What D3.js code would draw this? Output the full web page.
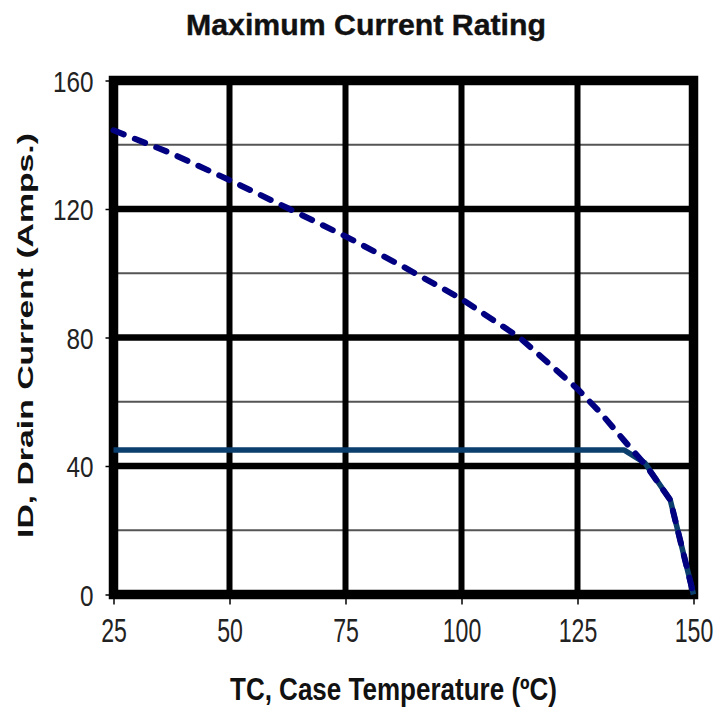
<!DOCTYPE html>
<html>
<head>
<meta charset="utf-8">
<script src="https://cdn.jsdelivr.net/npm/d3@7"></script>
<style>
  html, body { margin: 0; padding: 0; background: #fff; }
  svg { display: block; }
</style>
</head>
<body>
<svg id="chart" width="720" height="709"></svg>
<script>
// ---- data ----
const xTicks = [25, 50, 75, 100, 125, 150];
const yTicks = [0, 40, 80, 120, 160];
const yMinorTicks = [20, 60, 100, 140];

// Package-limited current (solid)
const solidTemp = [25, 135, 139.5, 145, 150];
const solidCurrent = [45, 45, 41, 29.4, 0];

// Silicon-limited current (dashed)
const dashTemp = [25, 37.5, 50, 62.5, 75, 87.5, 100, 112.5, 125, 130, 135, 140, 145, 150];
const dashCurrent = [144.5, 137.3, 129, 120.3, 111.5, 102, 92, 80, 64, 56.5, 48, 39.7, 29.4, 0];

const titleText = "Maximum Current Rating";
const xTitle = "TC, Case  Temperature (\u00BAC)";
const yTitle = "ID, Drain Current (Amps.)";

// ---- layout ----
const svg = d3.select("#chart");
const x = d3.scaleLinear().domain([25, 150]).range([113.5, 693.5]);
const y = d3.scaleLinear().domain([0, 160]).range([594.5, 80.5]);
const font = "'Liberation Sans', Arial, sans-serif";

// minor horizontal grid
svg.append("g").selectAll("line").data(yMinorTicks).join("line")
  .attr("x1", x(25)).attr("x2", x(150))
  .attr("y1", d => y(d)).attr("y2", d => y(d))
  .attr("stroke", "#555").attr("stroke-width", 2);

// major horizontal grid
svg.append("g").selectAll("line").data(yTicks.filter(d => d > 0 && d < 160)).join("line")
  .attr("x1", x(25)).attr("x2", x(150))
  .attr("y1", d => y(d)).attr("y2", d => y(d))
  .attr("stroke", "#000").attr("stroke-width", 6.5);

// vertical grid
svg.append("g").selectAll("line").data(xTicks.filter(d => d > 25 && d < 150)).join("line")
  .attr("x1", d => x(d)).attr("x2", d => x(d))
  .attr("y1", y(0)).attr("y2", y(160))
  .attr("stroke", "#000").attr("stroke-width", 6);

// axes (ticks + labels)
const xs = 0.68;
const xAxis = svg.append("g")
  .attr("transform", `translate(0,${y(0)})`)
  .call(d3.axisBottom(x).tickValues(xTicks).tickSize(10).tickSizeOuter(0).tickFormat(d3.format("d")));
xAxis.select(".domain").remove();
xAxis.selectAll(".tick line").attr("stroke", "#000").attr("stroke-width", 1.5);
xAxis.selectAll(".tick text")
  .attr("y", 48).attr("dy", null).attr("x", 0)
  .attr("transform", `scale(${xs},1)`)
  .attr("font-family", font).attr("font-size", 34).attr("fill", "#222");

const ys = 0.81;
const yAxis = svg.append("g")
  .attr("transform", `translate(${x(25)},0)`)
  .call(d3.axisLeft(y).tickValues(yTicks).tickSize(8).tickSizeOuter(0).tickPadding(12).tickFormat(d3.format("d")));
yAxis.select(".domain").remove();
yAxis.selectAll(".tick line").attr("stroke", "#000").attr("stroke-width", 1.5);
yAxis.selectAll(".tick text")
  .attr("dy", "0.36em")
  .attr("x", -20 / ys)
  .attr("transform", `scale(${ys},1)`)
  .attr("font-family", font).attr("font-size", 30).attr("fill", "#222");

// frame
svg.append("rect")
  .attr("x", x(25)).attr("y", y(160))
  .attr("width", x(150) - x(25)).attr("height", y(0) - y(160))
  .attr("fill", "none").attr("stroke", "#000").attr("stroke-width", 9.5);

// lines
const line = d3.line().x(d => x(d[0])).y(d => y(d[1]));
svg.append("path")
  .datum(solidTemp.map((t, i) => [t, solidCurrent[i]]))
  .attr("d", line)
  .attr("fill", "none").attr("stroke", "#0b3f6d").attr("stroke-width", 5.5)
  .attr("stroke-linejoin", "round");
svg.append("path")
  .datum(dashTemp.map((t, i) => [t, dashCurrent[i]]))
  .attr("d", line)
  .attr("fill", "none").attr("stroke", "#000080").attr("stroke-width", 6)
  .attr("stroke-dasharray", "11,12").attr("stroke-linecap", "round")
  .attr("stroke-linejoin", "round");

// titles
svg.append("text")
  .attr("x", 366).attr("y", 35).attr("text-anchor", "middle")
  .attr("font-family", font).attr("font-weight", "bold").attr("font-size", 30)
  .attr("stroke", "#111").attr("stroke-width", 0.4)
  .attr("textLength", 360).attr("lengthAdjust", "spacingAndGlyphs")
  .attr("fill", "#111").text(titleText);

svg.append("text")
  .attr("x", 393.5).attr("y", 700).attr("text-anchor", "middle")
  .attr("font-family", font).attr("font-weight", "bold").attr("font-size", 31)
  .attr("textLength", 327).attr("lengthAdjust", "spacingAndGlyphs")
  .attr("fill", "#111").text(xTitle);

svg.append("text")
  .attr("transform", "translate(33,335.5) rotate(-90)")
  .attr("text-anchor", "middle")
  .attr("font-family", font).attr("font-weight", "bold").attr("font-size", 22)
  .attr("textLength", 405).attr("lengthAdjust", "spacingAndGlyphs")
  .attr("fill", "#111").text(yTitle);
</script>
</body>
</html>
